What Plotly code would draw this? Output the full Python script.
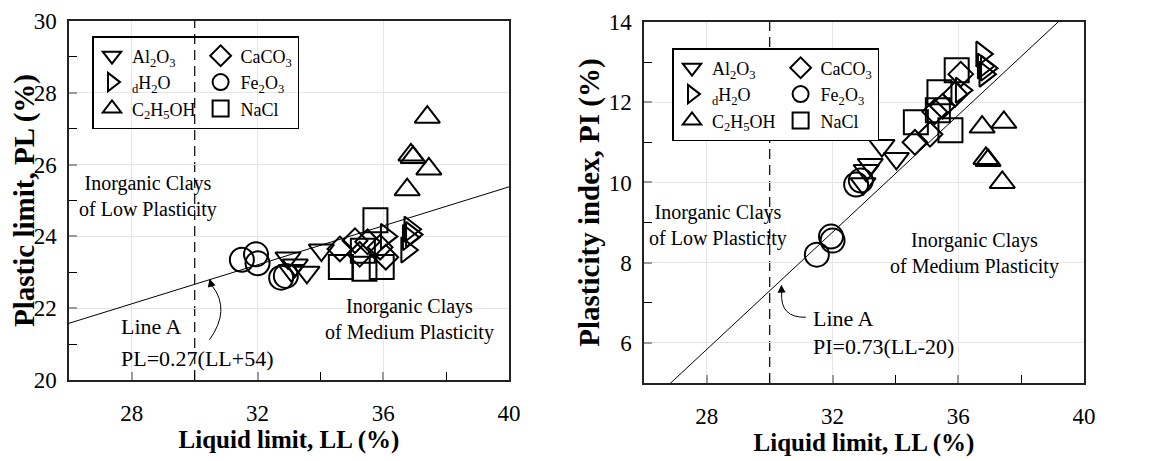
import plotly.graph_objects as go

# ---------------- data ----------------
# Al2O3 (inverted triangles)
al2o3_ll = [32.97, 33.07, 33.20, 33.57, 34.03]
al2o3_pl = [23.40, 23.05, 23.20, 23.00, 23.62]
al2o3_pi = [9.97, 10.30, 10.45, 10.92, 10.60]
# dH2O (right triangles)
dh2o_ll = [36.10, 36.75, 36.80, 36.85, 36.90]
dh2o_pl = [24.00, 23.62, 23.97, 24.20, 24.05]
dh2o_pi = [12.30, 13.20, 12.90, 12.70, 12.85]
# C2H5OH (triangles)
c2h5oh_ll = [37.40, 36.88, 36.95, 37.45, 36.76]
c2h5oh_pl = [27.32, 26.27, 26.20, 25.88, 25.30]
c2h5oh_pi = [10.00, 10.60, 10.55, 11.50, 11.38]
# CaCO3 (diamonds)
caco3_ll = [34.62, 35.10, 35.25, 35.50, 35.90, 36.08]
caco3_pl = [23.65, 23.88, 23.50, 23.85, 23.70, 23.42]
caco3_pi = [11.00, 11.20, 11.76, 11.90, 12.20, 12.70]
# Fe2O3 (circles)
fe2o3_ll = [31.50, 31.95, 32.00, 32.75, 32.90]
fe2o3_pl = [23.35, 23.50, 23.25, 22.85, 22.90]
fe2o3_pi = [8.20, 8.65, 8.55, 9.95, 10.05]
# NaCl (squares)
nacl_ll = [34.65, 35.35, 35.40, 35.75, 35.95]
nacl_pl = [23.15, 23.60, 23.10, 24.45, 23.15]
nacl_pi = [11.50, 11.80, 12.25, 11.30, 12.80]

# Line A end points
lineA_ll = [26, 40]
lineA_pl = [21.58, 25.38]   # PL = 0.27(LL+54)
lineA_pi = [4.38, 14.60]    # PI = 0.73(LL-20)

x_ticks = [28, 32, 36, 40]

FONT = "Liberation Serif"
W, H = 1151, 461
OFF = 8  # page offset of the plot div

series = [
    # name, symbol, size, ll, pl, pi, group
    ("Al<sub>2</sub>O<sub>3</sub>", "triangle-down-open", 22, al2o3_ll, al2o3_pl, al2o3_pi, "a"),
    ("<sub>d</sub>H<sub>2</sub>O", "triangle-right-open", 22, dh2o_ll, dh2o_pl, dh2o_pi, "a"),
    ("C<sub>2</sub>H<sub>5</sub>OH", "triangle-up-open", 22, c2h5oh_ll, c2h5oh_pl, c2h5oh_pi, "a"),
    ("CaCO<sub>3</sub>", "diamond-open", 19, caco3_ll, caco3_pl, caco3_pi, "b"),
    ("Fe<sub>2</sub>O<sub>3</sub>", "circle-open", 24, fe2o3_ll, fe2o3_pl, fe2o3_pi, "b"),
    ("NaCl", "square-open", 24, nacl_ll, nacl_pl, nacl_pi, "b"),
]

fig = go.Figure()

# Line A
fig.add_trace(go.Scatter(x=lineA_ll, y=lineA_pl, mode="lines", line=dict(color="black", width=1),
                         showlegend=False, xaxis="x", yaxis="y", hoverinfo="skip"))
fig.add_trace(go.Scatter(x=lineA_ll, y=lineA_pi, mode="lines", line=dict(color="black", width=1),
                         showlegend=False, xaxis="x2", yaxis="y2", hoverinfo="skip"))

for name, sym, size, ll, pl, pi, grp in series:
    fig.add_trace(go.Scatter(
        x=ll, y=pl, mode="markers", name=name, legend="legend", legendgroup="L" + grp,
        marker=dict(symbol=sym, size=size, color="black", line=dict(width=2, color="black")),
        xaxis="x", yaxis="y", cliponaxis=False))
    fig.add_trace(go.Scatter(
        x=ll, y=pi, mode="markers", name=name, legend="legend2", legendgroup="R" + grp,
        marker=dict(symbol=sym, size=size, color="black", line=dict(width=2, color="black")),
        xaxis="x2", yaxis="y2", cliponaxis=False))

tickfont = dict(family=FONT, size=23, color="black")
xtitlefont = dict(family=FONT, size=25, color="black", weight="bold")
ytitlefont = dict(family=FONT, size=29, color="black", weight="bold")


def px_x(a, b):
    return [(a - OFF) / W, (b - OFF) / W]


def px_y(top, bottom):
    return [1 - (bottom - OFF) / H, 1 - (top - OFF) / H]


def xax(domain, anchor):
    return dict(domain=domain, anchor=anchor, range=[26, 40], tickvals=x_ticks,
                ticks="inside", ticklen=8, tickcolor="#9a9a9a", tickwidth=1.5,
                minor=dict(ticks="inside", ticklen=8, tickcolor="black", tickwidth=1,
                           tickvals=[30, 34, 38], showgrid=False),
                showgrid=True, gridcolor="#e6e6e6", gridwidth=1, zeroline=False,
                showline=True, linecolor="#222", linewidth=1.5, mirror=True,
                tickfont=tickfont, ticklabelstandoff=12, automargin=False,
                ticklabeloverflow="allow",
                title=dict(text="Liquid limit, LL (%)", font=xtitlefont, standoff=2))


def yax(domain, anchor, rng, major, minor, title, standoff):
    return dict(domain=domain, anchor=anchor, range=rng, tickvals=major,
                ticks="inside", ticklen=8, tickcolor="#9a9a9a", tickwidth=1.5,
                minor=dict(ticks="inside", ticklen=8, tickcolor="black", tickwidth=1,
                           tickvals=minor, showgrid=False),
                showgrid=True, gridcolor="#e6e6e6", gridwidth=1, zeroline=False,
                showline=True, linecolor="#222", linewidth=1.5, mirror=True,
                tickfont=tickfont, ticklabelstandoff=6, automargin=False,
                ticklabeloverflow="allow",
                title=dict(text=title, font=ytitlefont, standoff=standoff))


fig.update_layout(
    width=W, height=H,
    margin=dict(l=0, r=0, t=0, b=0, autoexpand=False),
    paper_bgcolor="white", plot_bgcolor="white",
    font=dict(family=FONT, color="black"),
    xaxis=xax(px_x(69, 509), "y"),
    yaxis=yax(px_y(21, 380), "x", [20, 30], [20, 22, 24, 26, 28, 30],
              [21, 23, 25, 27, 29], "Plastic limit, PL (%)", 6),
    xaxis2=xax(px_x(644, 1084), "y2"),
    yaxis2=yax(px_y(22, 383), "x2", [5, 14], [6, 8, 10, 12, 14],
               [5, 7, 9, 11, 13], "Plasticity index, PI (%)", 1),
    legend=dict(x=(92 - OFF) / W, y=1 - (36 - OFF) / H, xanchor="left", yanchor="top",
                orientation="h", traceorder="grouped", tracegroupgap=0,
                bgcolor="rgba(255,255,255,0)", bordercolor="black", borderwidth=1.5,
                font=dict(family=FONT, size=18, color="black"), itemsizing="trace"),
    legend2=dict(x=(672 - OFF) / W, y=1 - (48 - OFF) / H, xanchor="left", yanchor="top",
                 orientation="h", traceorder="grouped", tracegroupgap=0,
                 bgcolor="white", bordercolor="black", borderwidth=1.5,
                 font=dict(family=FONT, size=18, color="black"), itemsizing="trace"),
    showlegend=True,
)

# dashed vertical line at LL = 30
for xr, yr in (("x", "y"), ("x2", "y2")):
    fig.add_shape(type="line", xref=xr, yref=yr + " domain", x0=30, x1=30, y0=0, y1=1,
                  line=dict(color="black", width=1.2, dash="10px,6px"), layer="below")

# curved arrows for "Line A"
fig.add_shape(type="path", xref="x", yref="y",
              path="M 30.47,21.12 Q 31.15,21.95 30.56,22.62", line=dict(color="black", width=1))
fig.add_annotation(x=30.47, y=22.82, ax=30.56, ay=22.55, xref="x", yref="y", axref="x", ayref="y",
                   text="", showarrow=True, arrowhead=2, arrowsize=1.6, arrowwidth=1, arrowcolor="black")
fig.add_shape(type="path", xref="x2", yref="y2",
              path="M 31.15,6.64 Q 30.33,6.62 30.38,7.25", line=dict(color="black", width=1))
fig.add_annotation(x=30.37, y=7.45, ax=30.38, ay=7.2, xref="x2", yref="y2", axref="x2", ayref="y2",
                   text="", showarrow=True, arrowhead=2, arrowsize=1.6, arrowwidth=1, arrowcolor="black")

txt = dict(family=FONT, size=20, color="black")
txtA = dict(family=FONT, size=22, color="black")

# left annotations
fig.add_annotation(x=28.52, y=25.1, xref="x", yref="y", text="Inorganic Clays<br>of Low Plasticity",
                   showarrow=False, font=txt, align="center")
fig.add_annotation(x=36.84, y=21.68, xref="x", yref="y", text="Inorganic Clays<br>of Medium Plasticity",
                   showarrow=False, font=txt, align="center")
fig.add_annotation(x=27.6, y=21.48, xref="x", yref="y", text="Line A", xanchor="left",
                   showarrow=False, font=txtA)
fig.add_annotation(x=27.6, y=20.61, xref="x", yref="y", text="PL=0.27(LL+54)", xanchor="left",
                   showarrow=False, font=txtA)

# right annotations
fig.add_annotation(x=28.35, y=8.92, xref="x2", yref="y2", text="Inorganic Clays<br>of Low Plasticity",
                   showarrow=False, font=txt, align="center")
fig.add_annotation(x=36.52, y=8.24, xref="x2", yref="y2", text="Inorganic Clays<br>of Medium Plasticity",
                   showarrow=False, font=txt, align="center")
fig.add_annotation(x=31.3, y=6.62, xref="x2", yref="y2", text="Line A", xanchor="left",
                   showarrow=False, font=txtA)
fig.add_annotation(x=31.3, y=5.92, xref="x2", yref="y2", text="PI=0.73(LL-20)", xanchor="left",
                   showarrow=False, font=txtA)

fig.write_html("out.html")
